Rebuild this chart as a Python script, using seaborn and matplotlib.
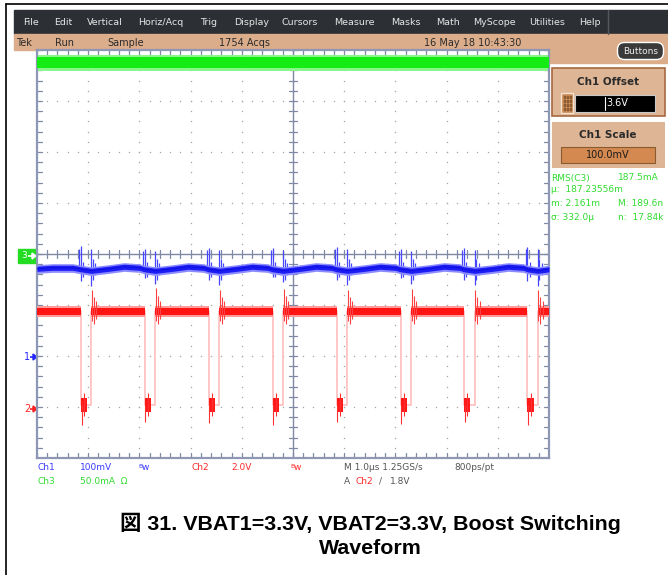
import numpy as np
import pandas as pd
import matplotlib
matplotlib.use("Agg")
import matplotlib.pyplot as plt
import matplotlib.patches as mpatches
import seaborn as sns

# =========================================================
# READINGS FROM THE SCOPE SCREEN
# x in us (1.0 us/div), y in divisions from screen centre
# =========================================================
red_fall_us = [0.86, 2.10, 3.35, 4.60, 5.85, 7.10, 8.34, 9.58]
red_rise_us = [1.06, 2.31, 3.56, 4.81, 6.06, 7.31, 8.55, 9.78]
red_high_div = -1.12
red_low_div = -2.97
red_overshoot_div = [-0.70, -0.67, -0.70, -0.68, -0.70, -0.68, -0.70, -0.70]
red_undershoot_div = [-3.35, -3.30, -3.32, -3.35, -3.30, -3.33, -3.30, -3.35]

blue_t_us = [0.0, 0.30, 0.70, 0.86, 1.06, 1.40, 1.70, 2.00, 2.10, 2.31, 2.65,
             2.95, 3.25, 3.35, 3.56, 3.90, 4.20, 4.50, 4.60, 4.81, 5.15, 5.45,
             5.75, 5.85, 6.06, 6.40, 6.70, 7.00, 7.10, 7.31, 7.65, 7.95, 8.25,
             8.34, 8.55, 8.90, 9.20, 9.50, 9.58, 9.78, 10.0]
blue_div = [-0.29, -0.27, -0.27, -0.30, -0.33, -0.29, -0.25, -0.27, -0.30, -0.33,
            -0.29, -0.25, -0.27, -0.30, -0.33, -0.29, -0.25, -0.27, -0.30, -0.33,
            -0.29, -0.25, -0.27, -0.30, -0.33, -0.29, -0.25, -0.27, -0.30, -0.33,
            -0.29, -0.25, -0.27, -0.30, -0.33, -0.29, -0.25, -0.27, -0.30, -0.33,
            -0.30]
blue_spike_hi_div = [0.15, 0.10, 0.12, 0.12, 0.14, 0.10, 0.12, 0.14]
blue_spike_lo_div = [-0.62, -0.58, -0.60, -0.55, -0.60, -0.58, -0.60, -0.62]

green_level_div = 3.76
green_halfwidth_div = 0.11

menu_items = ["File", "Edit", "Vertical", "Horiz/Acq", "Trig", "Display", "Cursors",
              "Measure", "Masks", "Math", "MyScope", "Utilities", "Help"]
menu_x = [23, 54, 87, 138, 200, 234, 281, 334, 391, 436, 473, 529, 579]

status_items = ["Tek", "Run", "Sample", "1754 Acqs", "16 May 18 10:43:30"]
status_x = [16, 55, 107, 219, 424]

# =========================================================
# FIGURE
# =========================================================
W, H = 668, 575
sns.set_theme(style="white")
plt.rcParams["font.family"] = ["DejaVu Sans"]

fig = plt.figure(figsize=(W / 100, H / 100), dpi=100)
fig.patch.set_facecolor("white")


def box(x0, y0, x1, y1):
    return [x0 / W, 1 - y1 / H, (x1 - x0) / W, (y1 - y0) / H]


def arrow(axis, x0, x1, y, color):
    # small scope ground marker arrow
    axis.plot([x0, x1], [y, y], color=color, lw=1.2, solid_capstyle="butt")
    d = 4 if x1 > x0 else -4
    axis.add_patch(mpatches.Polygon([(x1, y), (x1 - d, y - 3), (x1 - d, y + 3)], color=color))


bg = fig.add_axes([0, 0, 1, 1])
bg.set_xlim(0, W)
bg.set_ylim(H, 0)
bg.axis("off")

# outer frame
bg.plot([6, W], [4, 4], color="black", lw=1.2)
bg.plot([6, 6], [4, H], color="black", lw=1.2)

# menu bar + status bar
bg.add_patch(mpatches.Rectangle((14, 10), W - 14, 24, color="#2c2f34"))
bg.plot([608, 608], [10, 34], color="#55585d", lw=1)
for name, x in zip(menu_items, menu_x):
    bg.text(x, 22.5, name, color="#e6e6e6", fontsize=6.8, va="center", ha="left")
bg.add_patch(mpatches.Rectangle((14, 34), 535, 16, color="#dcad8a"))
bg.add_patch(mpatches.Rectangle((549, 34), W - 549, 29, color="#dcad8a"))
for name, x in zip(status_items, status_x):
    bg.text(x, 42.5, name, color="#2a2a2a", fontsize=7, va="center", ha="left")

# Buttons pill
bg.add_patch(mpatches.FancyBboxPatch((619, 44), 43, 14, boxstyle="round,pad=1.5,rounding_size=7",
                                     fc="#3a3a3a", ec="white", lw=1))
bg.text(640.5, 51, "Buttons", color="#eeeeee", fontsize=6.5, ha="center", va="center")

# Ch1 Offset panel
bg.add_patch(mpatches.Rectangle((552, 68), 113, 48, fc="#deb696", ec="#a8683f", lw=1.2))
bg.text(608, 82, "Ch1 Offset", color="#2a2a2a", fontsize=7.5, fontweight="bold", ha="center", va="center")
bg.add_patch(mpatches.Rectangle((561, 93), 12, 20, fc="#c98a55", ec="#f4e2d0", lw=1))
for ix in range(3):
    for iy in range(4):
        bg.add_patch(mpatches.Rectangle((563.5 + ix * 3, 96 + iy * 4), 1.6, 2, color="#8a5a30"))
bg.add_patch(mpatches.Rectangle((575, 95), 80, 17, fc="black", ec="#c8c8c8", lw=0.8))
bg.plot([605, 605], [97, 110], color="white", lw=0.8)
bg.text(617, 103.5, "3.6V", color="white", fontsize=7, ha="center", va="center")

# Ch1 Scale panel
bg.add_patch(mpatches.Rectangle((552, 122), 113, 46, fc="#deb696", lw=0))
bg.text(608, 135, "Ch1 Scale", color="#2a2a2a", fontsize=7.5, fontweight="bold", ha="center", va="center")
bg.add_patch(mpatches.Rectangle((561, 147), 94, 16, fc="#d3894f", ec="#8a5a30", lw=0.8))
bg.text(608, 155, "100.0mV", color="#1a1a1a", fontsize=7, ha="center", va="center")

# measurement readout
meas = [("RMS(C3)", "187.5mA", 178), ("\u00b5:  187.23556m", "", 190),
        ("m: 2.161m", "M: 189.6n", 204), ("\u03c3: 332.0\u00b5", "n:  17.84k", 218)]
for left, right, y in meas:
    bg.text(551, y, left, color="#2fdc2f", fontsize=6.5, va="center", ha="left")
    bg.text(618, y, right, color="#2fdc2f", fontsize=6.5, va="center", ha="left")

# =========================================================
# SCOPE GRATICULE
# =========================================================
ax = fig.add_axes(box(37, 50, 549, 458))
ax.set_xlim(0, 10)
ax.set_ylim(-4, 4)
ax.set_xticks([])
ax.set_yticks([])
ax.set_facecolor("white")
for s in ax.spines.values():
    s.set_color("#8e97b3")
    s.set_linewidth(1.6)

minor_x = np.arange(0, 10.001, 0.2)
minor_y = np.arange(-4, 4.001, 0.2)
dot_c = "#a4a4a4"
for i in range(1, 10):
    if i != 5:
        ax.plot([i] * len(minor_y), minor_y, ls="none", marker="s", ms=0.9, color=dot_c, mec="none", zorder=1)
for j in range(-3, 4):
    if j != 0:
        ax.plot(minor_x, [j] * len(minor_x), ls="none", marker="s", ms=0.9, color=dot_c, mec="none", zorder=1)

tick_c = "#7f89a6"
ax.axhline(0, color=tick_c, lw=1.0, zorder=1)
ax.axvline(5, color=tick_c, lw=1.0, zorder=1)
for xv in minor_x:
    ax.plot([xv, xv], [-0.08, 0.08], color=tick_c, lw=0.9, zorder=1)
    ax.plot([xv, xv], [-4, -3.9], color=tick_c, lw=0.9, zorder=1)
    ax.plot([xv, xv], [4, 3.9], color=tick_c, lw=0.9, zorder=1)
for yv in minor_y:
    ax.plot([4.92, 5.08], [yv, yv], color=tick_c, lw=0.9, zorder=1)
    ax.plot([0, 0.1], [yv, yv], color=tick_c, lw=0.9, zorder=1)
    ax.plot([9.9, 10], [yv, yv], color=tick_c, lw=0.9, zorder=1)

# =========================================================
# TRACES
# =========================================================
# Ch3 current (green band)
ax.fill_between([0, 10], green_level_div - green_halfwidth_div - 0.07,
                green_level_div + green_halfwidth_div + 0.04, color="#8af58a", lw=0, zorder=2)
ax.fill_between([0, 10], green_level_div - green_halfwidth_div, green_level_div + green_halfwidth_div,
                color="#14ec14", lw=0, zorder=3)

# Ch1 (blue)
blue = pd.DataFrame({"t": blue_t_us, "v": blue_div})
for tf, tr, hi, lo in zip(red_fall_us, red_rise_us, blue_spike_hi_div, blue_spike_lo_div):
    ax.vlines([tf - 0.03, tf, tf + 0.04], [-0.3, lo + 0.1, -0.45], [hi - 0.05, hi, -0.15],
              color="#4646ff", lw=0.9, zorder=2)
    ax.vlines([tr, tr + 0.03, tr + 0.08], [lo, -0.5, -0.42], [hi - 0.05, -0.1, -0.18],
              color="#4646ff", lw=0.9, zorder=2)
ax.fill_between(blue["t"], blue["v"] - 0.09, blue["v"] + 0.08, color="#8c8cff", lw=0, zorder=3)
ax.fill_between(blue["t"], blue["v"] - 0.05, blue["v"] + 0.05, color="#1c1cf5", lw=0, zorder=4)
sns.lineplot(data=blue, x="t", y="v", color="#1010e0", lw=0.8, sort=False, estimator=None, ax=ax, zorder=5)

# Ch2 (red)
red_t, red_v = [0.0], [red_high_div]
for tf, tr in zip(red_fall_us, red_rise_us):
    red_t += [tf, tf, tr, tr]
    red_v += [red_high_div, red_low_div, red_low_div, red_high_div]
red_t.append(10.0)
red_v.append(red_high_div)
red = pd.DataFrame({"t": red_t, "v": red_v})
sns.lineplot(data=red, x="t", y="v", color="#ffb8b8", lw=1.1, sort=False, estimator=None, ax=ax, zorder=2)

seg_start = [0.0] + red_rise_us
seg_end = red_fall_us + [10.0]
for a, b in zip(seg_start, seg_end):
    ax.fill_between([a, b], red_high_div - 0.11, red_high_div + 0.10, color="#ff9a9a", lw=0, zorder=3)
    ax.fill_between([a, b], red_high_div - 0.07, red_high_div + 0.06, color="#ff1414", lw=0, zorder=4)
for tf, tr, ov, un in zip(red_fall_us, red_rise_us, red_overshoot_div, red_undershoot_div):
    ax.fill_between([tf, tf + 0.12], red_low_div - 0.12, red_low_div + 0.14, color="#ff1a1a", lw=0, zorder=4)
    ax.vlines([tf + 0.01, tf + 0.06], [un, red_low_div - 0.2], [red_low_div, red_low_div + 0.25],
              color="#ff3030", lw=0.8, zorder=4)
    ax.vlines([tr + 0.01, tr + 0.05, tr + 0.1], [red_high_div - 0.2, red_high_div - 0.25, red_high_div - 0.15],
              [ov, ov - 0.15, red_high_div + 0.2], color="#ff4040", lw=0.8, zorder=4)

# =========================================================
# MARKERS AND READOUTS
# =========================================================
bg.add_patch(mpatches.Rectangle((18, 249), 19, 14, color="#22dd22"))
bg.text(21, 256, "3", color="white", fontsize=6.5, va="center", ha="left")
arrow(bg, 28, 36, 256, "white")
bg.text(24, 357, "1", color="#2424ff", fontsize=7, va="center", ha="left")
arrow(bg, 30, 37, 357, "#2424ff")
bg.text(24, 409, "2", color="#ff2020", fontsize=7, va="center", ha="left")
arrow(bg, 30, 37, 409, "#ff2020")
arrow(bg, 548, 536, 363, "#ff2020")
bg.add_patch(mpatches.Polygon([(277, 50), (289, 50), (283, 57)], color="#2aa4ea"))

blue_c, red_c, green_c, gray_c = "#3a3aff", "#ff2a2a", "#2fdc2f", "#555555"
row1, row2 = 468, 481
bg.text(38, row1, "Ch1", color=blue_c, fontsize=6.5, va="center")
bg.text(80, row1, "100mV", color=blue_c, fontsize=6.5, va="center")
bg.text(138, row1 - 2, "B", color=blue_c, fontsize=4.5, va="center")
bg.text(142, row1, "w", color=blue_c, fontsize=6.5, va="center")
bg.text(191, row1, "Ch2", color=red_c, fontsize=6.5, va="center")
bg.text(231, row1, "2.0V", color=red_c, fontsize=6.5, va="center")
bg.text(290, row1 - 2, "B", color=red_c, fontsize=4.5, va="center")
bg.text(294, row1, "w", color=red_c, fontsize=6.5, va="center")
bg.text(344, row1, "M 1.0\u00b5s 1.25GS/s", color=gray_c, fontsize=6.5, va="center")
bg.text(454, row1, "800ps/pt", color=gray_c, fontsize=6.5, va="center")
bg.text(38, row2, "Ch3", color=green_c, fontsize=6.5, va="center")
bg.text(80, row2, "50.0mA  \u03a9", color=green_c, fontsize=6.5, va="center")
bg.text(344, row2, "A", color=gray_c, fontsize=6.5, va="center")
bg.text(355, row2, "Ch2", color=red_c, fontsize=6.5, va="center")
bg.text(379, row2, "/", color=gray_c, fontsize=6.5, va="center")
bg.text(390, row2, "1.8V", color=gray_c, fontsize=6.5, va="center")

# =========================================================
# CAPTION
# =========================================================
cap_font = ["Liberation Sans", "Noto Sans CJK JP"]
bg.text(370, 523, "\u56f3 31. VBAT1=3.3V, VBAT2=3.3V, Boost Switching", family=cap_font,
        fontsize=15.4, fontweight="bold", ha="center", va="center", color="black")
bg.text(370, 549, "Waveform", family=cap_font,
        fontsize=15.4, fontweight="bold", ha="center", va="center", color="black")

fig.savefig("out.png", dpi=100)
